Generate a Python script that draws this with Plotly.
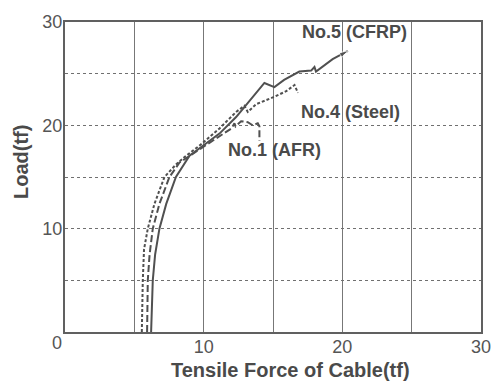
import plotly.graph_objects as go

# No.5 (CFRP) - solid
cfrp_x = [6.21, 6.25, 6.33, 6.5, 6.81, 7.3, 8.0, 8.98, 9.94, 11.14, 12.34, 13.3, 14.38, 15.1, 15.8, 16.9, 17.75, 17.99, 18.1, 19.3, 20.4]
cfrp_y = [0, 3.0, 5.0, 7.5, 10.0, 12.4, 15.0, 17.06, 18.0, 19.2, 20.8, 22.4, 24.1, 23.7, 24.4, 25.2, 25.3, 25.65, 25.2, 26.4, 27.2]

# No.4 (Steel) - dotted
steel_x = [5.54, 5.56, 5.61, 5.7, 5.97, 6.45, 7.17, 8.0, 8.6, 9.94, 11.14, 12.34, 12.94, 13.18, 13.79, 14.98, 15.95, 16.55, 16.8]
steel_y = [0, 3.0, 5.0, 8.0, 10.0, 12.4, 15.0, 16.2, 16.9, 18.3, 19.7, 21.3, 21.9, 21.3, 22.05, 22.7, 23.3, 23.9, 23.15]

# No.1 (AFR) - dashed
afr_x = [5.92, 5.94, 5.97, 6.1, 6.33, 6.81, 7.53, 8.26, 9.4, 10.66, 11.38, 12.0, 12.22, 12.3, 12.7, 13.18, 13.54, 13.9, 14.02, 14.02]
afr_y = [0, 3.0, 5.0, 7.5, 10.0, 12.4, 15.0, 16.4, 17.4, 18.5, 19.1, 19.7, 20.2, 19.9, 20.4, 20.3, 20.0, 20.2, 19.9, 18.5]

tick_vals = [0, 5, 10, 15, 20, 25, 30]
tick_text = ["", "", "10", "", "20", "", "30"]

labels = ["No.5 (CFRP)", "No.4 (Steel)", "No.1 (AFR)"]
label_x = [20.87, 20.58, 15.1]
label_y = [29.05, 21.27, 17.6]

line_col = "#505050"
fig = go.Figure()
fig.add_trace(go.Scatter(x=steel_x, y=steel_y, mode="lines",
                         line=dict(color=line_col, width=2, dash="3px,2px")))
fig.add_trace(go.Scatter(x=afr_x, y=afr_y, mode="lines",
                         line=dict(color=line_col, width=2, dash="7px,3px")))
fig.add_trace(go.Scatter(x=cfrp_x, y=cfrp_y, mode="lines",
                         line=dict(color=line_col, width=2)))
fig.add_trace(go.Scatter(x=cfrp_x[-2:], y=cfrp_y[-2:], mode="markers",
                         marker=dict(symbol="arrow", angleref="previous", size=[0, 9],
                                     color=line_col)))

font_fam = "Liberation Sans, Arial, sans-serif"
for t, x, y in zip(labels, label_x, label_y):
    fig.add_annotation(x=x, y=y, xref="x", yref="y", text="<b>" + t + "</b>",
                       showarrow=False, xanchor="center", yanchor="middle",
                       font=dict(family=font_fam, size=18, color="#4a4a4a"))

fig.add_annotation(x=0, y=0, xref="x", yref="y", text="0", showarrow=False,
                   xanchor="center", yanchor="middle",
                   xshift=-8, yshift=-11, font=dict(family=font_fam, size=18, color="#555"))
fig.add_annotation(x=0.542, y=-0.122, xref="paper", yref="paper",
                   xanchor="center", yanchor="middle",
                   text="<b>Tensile Force of Cable(tf)</b>", showarrow=False,
                   font=dict(family=font_fam, size=20, color="#4a4a4a"))
fig.add_annotation(x=-0.107, y=0.55, xref="paper", yref="paper", textangle=-90,
                   xanchor="center", yanchor="middle",
                   text="<b>Load(tf)</b>", showarrow=False,
                   font=dict(family=font_fam, size=20, color="#4a4a4a"))

axis_common = dict(range=[0, 30], tickvals=tick_vals, ticktext=tick_text, ticks="",
                   showline=True, mirror=True, linecolor="#606060", linewidth=2,
                   zeroline=False, tickfont=dict(family=font_fam, size=18, color="#555"))
fig.update_xaxes(**axis_common, showgrid=True, gridcolor="#777777", gridwidth=1.3,
                 ticklabelstandoff=-3)
fig.update_yaxes(**axis_common, showgrid=True, gridcolor="#707070", gridwidth=1.2, griddash="dot",
                 ticklabelstandoff=-3)

fig.update_layout(width=503, height=386, margin=dict(l=65, r=22, t=12, b=54),
                  paper_bgcolor="white", plot_bgcolor="white", showlegend=False)
fig.write_html("out.html")
